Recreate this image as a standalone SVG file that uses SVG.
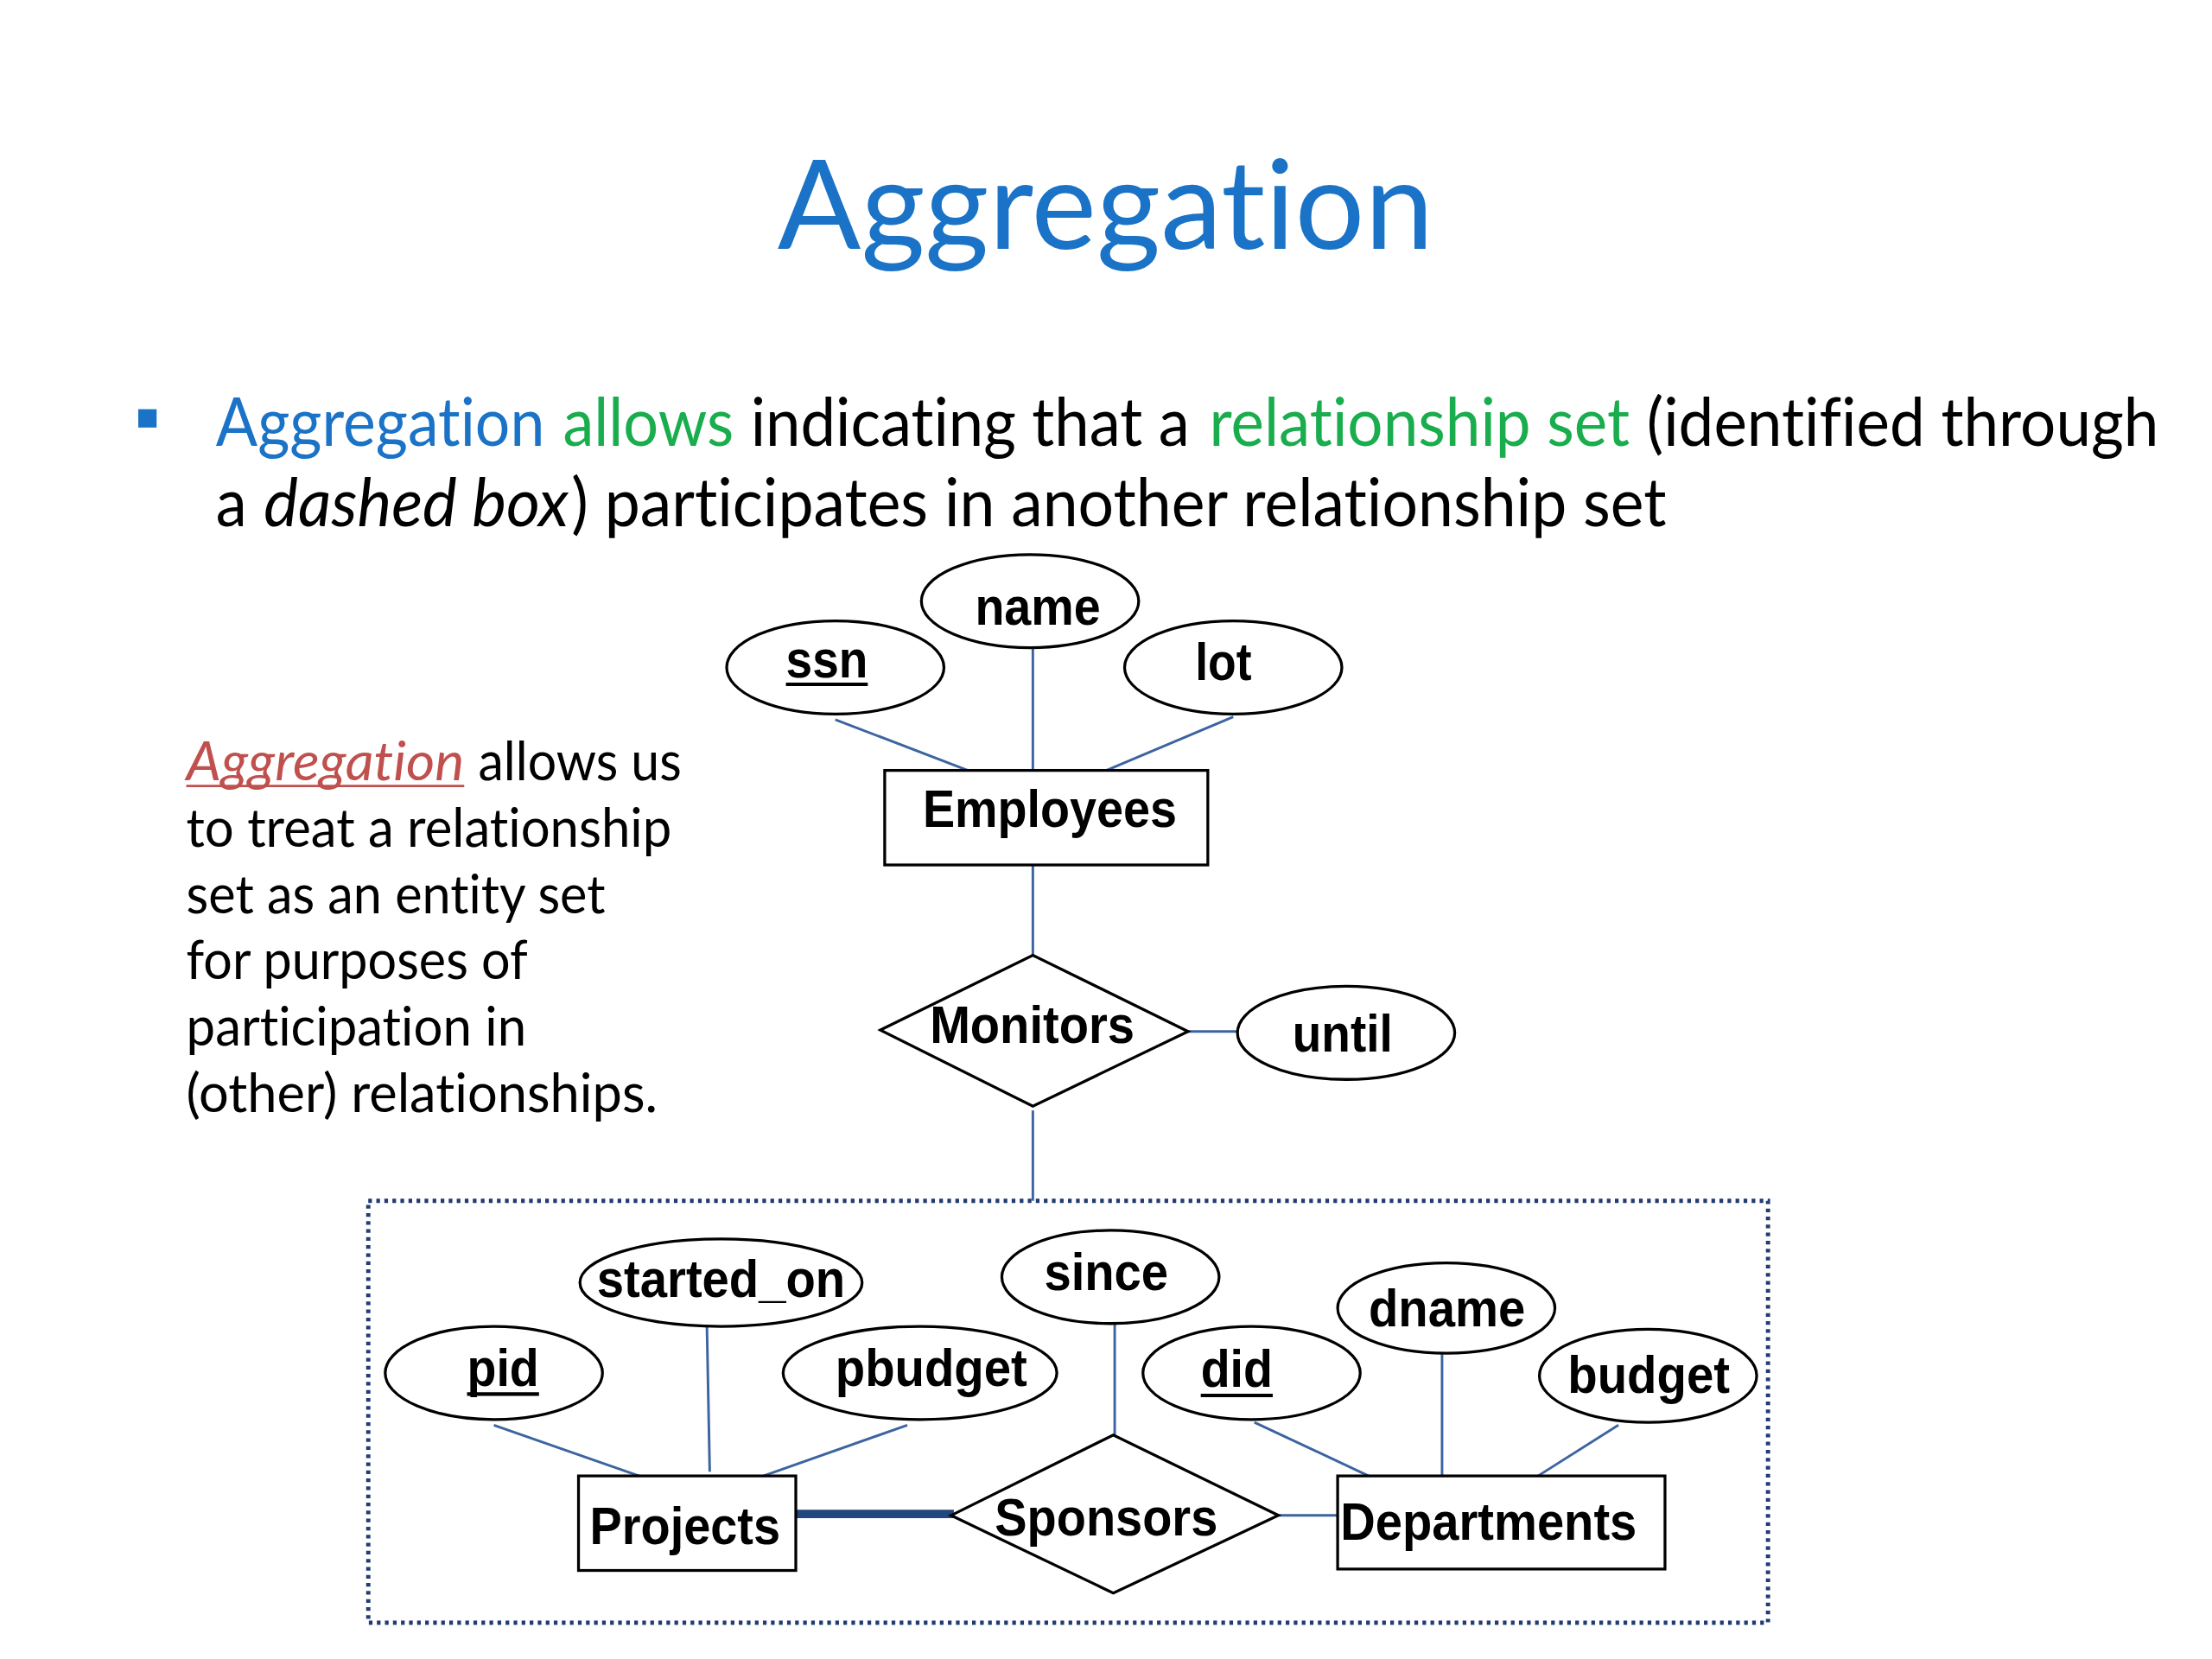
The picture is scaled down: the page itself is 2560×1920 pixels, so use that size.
<svg xmlns="http://www.w3.org/2000/svg" width="2560" height="1920" viewBox="0 0 2560 1920">
<defs>
<style>
.cal{font-family:Lato,"Open Sans","Noto Sans",sans-serif;font-variant-ligatures:none;}
.lbl{font-family:"Liberation Sans",Arial,sans-serif;font-weight:bold;font-size:37px;fill:#000;}
.shape{fill:#fff;stroke:#000;stroke-width:2;}
.conn{stroke:#3d64a0;stroke-width:1.8;fill:none;}
.blue{fill:#1a73c6;}
.green{fill:#1aad4e;}
.black{fill:#000;}
</style>
</defs>
<rect width="2560" height="1920" fill="#fff"/>
<g transform="scale(1.633)">
<g id="title"><text class="cal blue" x="551" y="176.5" font-size="88" textLength="465" lengthAdjust="spacingAndGlyphs">Aggregation</text></g>
<g id="bullet">
<rect x="98" y="290" width="13" height="13" fill="#1a73c6"/>
<text class="cal blue" font-size="47" x="153" y="316" textLength="233" lengthAdjust="spacingAndGlyphs">Aggregation</text>
<text class="cal green" font-size="47" x="399" y="316" textLength="121" lengthAdjust="spacingAndGlyphs">allows</text>
<text class="cal black" font-size="47" x="532" y="316" textLength="311" lengthAdjust="spacingAndGlyphs">indicating that a</text>
<text class="cal green" font-size="47" x="857" y="316" textLength="298" lengthAdjust="spacingAndGlyphs">relationship set</text>
<text class="cal black" font-size="47" x="1167" y="316" textLength="363" lengthAdjust="spacingAndGlyphs">(identified through</text>
<text class="cal black" font-size="47" x="153" y="373" textLength="22" lengthAdjust="spacingAndGlyphs">a</text>
<text class="cal black" font-size="47" x="187" y="373" font-style="italic" textLength="216" lengthAdjust="spacingAndGlyphs">dashed box</text>
<text class="cal black" font-size="47" x="405" y="373" textLength="776" lengthAdjust="spacingAndGlyphs">) participates in another relationship set</text>
</g>
<g id="sidenote" class="cal" font-size="38">
<text x="132" y="553" fill="#c0504d" font-style="italic" textLength="197" lengthAdjust="spacingAndGlyphs">Aggregation</text>
<line x1="132" y1="557" x2="329" y2="557" stroke="#c0504d" stroke-width="1.6"/>
<text x="339" y="553" fill="#000" textLength="144" lengthAdjust="spacingAndGlyphs">allows us</text>
<text x="132" y="600" fill="#000" textLength="344" lengthAdjust="spacingAndGlyphs">to treat a relationship</text>
<text x="132" y="647" fill="#000" textLength="297" lengthAdjust="spacingAndGlyphs">set as an entity set</text>
<text x="132" y="694" fill="#000" textLength="242" lengthAdjust="spacingAndGlyphs">for purposes of</text>
<text x="132" y="741" fill="#000" textLength="241" lengthAdjust="spacingAndGlyphs">participation in</text>
<text x="132" y="788" fill="#000" textLength="334" lengthAdjust="spacingAndGlyphs">(other) relationships.</text>
</g>
<g id="connectors">
<line class="conn" x1="592" y1="510" x2="686" y2="546"/>
<line class="conn" x1="732" y1="458" x2="732" y2="546"/>
<line class="conn" x1="874" y1="508" x2="784" y2="546"/>
<line class="conn" x1="732" y1="613" x2="732" y2="677"/>
<line class="conn" x1="842" y1="731" x2="877" y2="731"/>
<line class="conn" x1="732" y1="787" x2="732" y2="851"/>
<line class="conn" x1="350" y1="1010" x2="453" y2="1046"/>
<line class="conn" x1="501" y1="940" x2="503" y2="1043"/>
<line class="conn" x1="643" y1="1010" x2="541" y2="1046"/>
<line class="conn" x1="790" y1="938" x2="790" y2="1017"/>
<line class="conn" x1="889" y1="1008" x2="970" y2="1046"/>
<line class="conn" x1="1022" y1="958" x2="1022" y2="1046"/>
<line class="conn" x1="1147" y1="1010" x2="1090" y2="1046"/>
<line x1="564" y1="1073" x2="676" y2="1073" stroke="#23467e" stroke-width="6"/>
<line class="conn" x1="906" y1="1074" x2="948" y2="1074"/>
</g>
<g id="aggregation-box"><rect x="261" y="851" width="992" height="299" fill="none" stroke="#213b73" stroke-width="3" stroke-dasharray="2.6 3.1"/></g>
<g id="name"><ellipse class="shape" cx="730" cy="426" rx="77" ry="33"/><text class="lbl" x="691" y="443" textLength="89" lengthAdjust="spacingAndGlyphs">name</text></g>
<g id="ssn"><ellipse class="shape" cx="592" cy="473" rx="77" ry="33"/><text class="lbl" x="557" y="480" textLength="58" lengthAdjust="spacingAndGlyphs">ssn</text><line x1="557" y1="485" x2="615" y2="485" stroke="#000" stroke-width="2.5"/></g>
<g id="lot"><ellipse class="shape" cx="874" cy="473" rx="77" ry="33"/><text class="lbl" x="847" y="482" textLength="40" lengthAdjust="spacingAndGlyphs">lot</text></g>
<g id="employees"><rect class="shape" x="627" y="546" width="229" height="67"/><text class="lbl" x="654" y="586" textLength="180" lengthAdjust="spacingAndGlyphs">Employees</text></g>
<g id="monitors"><polygon class="shape" points="624,730 732,677 842,731 732,784"/><text class="lbl" x="659" y="739" textLength="145" lengthAdjust="spacingAndGlyphs">Monitors</text></g>
<g id="until"><ellipse class="shape" cx="954" cy="732" rx="77" ry="33"/><text class="lbl" x="916" y="745" textLength="71" lengthAdjust="spacingAndGlyphs">until</text></g>
<g id="started_on"><ellipse class="shape" cx="511" cy="909" rx="100" ry="31"/><text class="lbl" x="423" y="919" textLength="176" lengthAdjust="spacingAndGlyphs">started_on</text></g>
<g id="since"><ellipse class="shape" cx="787" cy="905" rx="77" ry="33"/><text class="lbl" x="740" y="914" textLength="88" lengthAdjust="spacingAndGlyphs">since</text></g>
<g id="pid"><ellipse class="shape" cx="350" cy="973" rx="77" ry="33"/><text class="lbl" x="331" y="982" textLength="51" lengthAdjust="spacingAndGlyphs">pid</text><line x1="331" y1="988" x2="382" y2="988" stroke="#000" stroke-width="2.5"/></g>
<g id="pbudget"><ellipse class="shape" cx="652" cy="973" rx="97" ry="33"/><text class="lbl" x="592" y="982" textLength="136" lengthAdjust="spacingAndGlyphs">pbudget</text></g>
<g id="did"><ellipse class="shape" cx="887" cy="973" rx="77" ry="33"/><text class="lbl" x="851" y="983" textLength="51" lengthAdjust="spacingAndGlyphs">did</text><line x1="851" y1="989" x2="902" y2="989" stroke="#000" stroke-width="2.5"/></g>
<g id="dname"><ellipse class="shape" cx="1025" cy="927" rx="77" ry="32"/><text class="lbl" x="970" y="940" textLength="111" lengthAdjust="spacingAndGlyphs">dname</text></g>
<g id="budget"><ellipse class="shape" cx="1168" cy="975" rx="77" ry="33"/><text class="lbl" x="1111" y="987" textLength="115" lengthAdjust="spacingAndGlyphs">budget</text></g>
<g id="projects"><rect class="shape" x="410" y="1046" width="154" height="67"/><text class="lbl" x="418" y="1094" textLength="135" lengthAdjust="spacingAndGlyphs">Projects</text></g>
<g id="sponsors"><polygon class="shape" points="674,1074 789,1017 906,1074 789,1129"/><text class="lbl" x="705" y="1088" textLength="158" lengthAdjust="spacingAndGlyphs">Sponsors</text></g>
<g id="departments"><rect class="shape" x="948" y="1046" width="232" height="66"/><text class="lbl" x="950" y="1091" textLength="210" lengthAdjust="spacingAndGlyphs">Departments</text></g>
</g>
</svg>
